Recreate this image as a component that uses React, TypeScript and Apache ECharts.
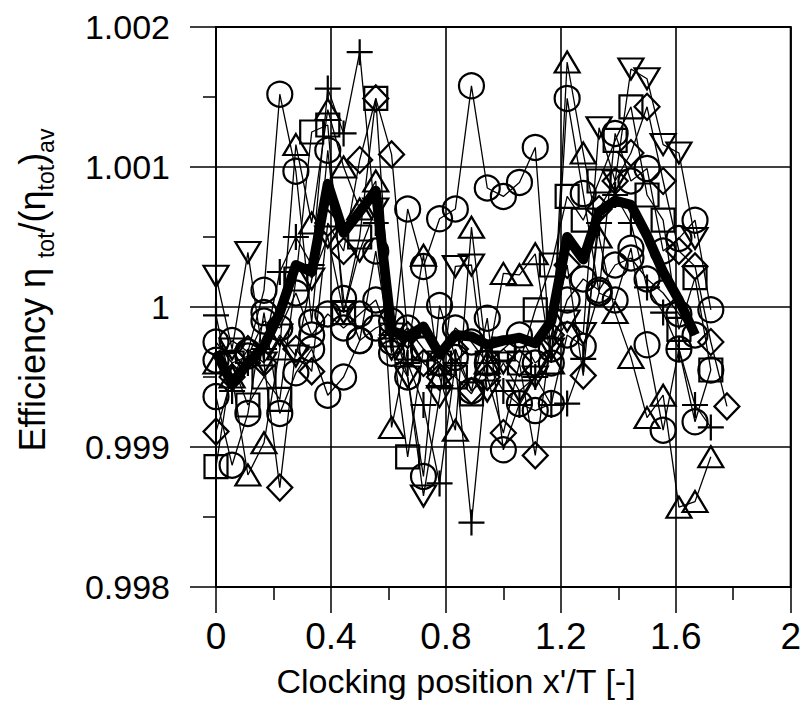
import React, { useEffect, useRef } from "react";
import * as echarts from "echarts";

// Clocking positions x'/T (steps of 1/18)
const positions = [
  0, 0.056, 0.111, 0.167, 0.222, 0.278, 0.333, 0.389, 0.444, 0.5, 0.556, 0.611,
  0.667, 0.722, 0.778, 0.833, 0.889, 0.944, 1.0, 1.056, 1.111, 1.167, 1.222,
  1.278, 1.333, 1.389, 1.444, 1.5, 1.556, 1.611, 1.667, 1.722, 1.778,
];

// Averaged efficiency (thick line)
const meanEff = [
  0.99968, 0.99945, 0.9996, 0.99972, 0.99996, 1.0003, 1.00025, 1.00088, 1.00053,
  1.00068, 1.00083, 0.99983, 0.99979, 0.99986, 0.99966, 0.9998, 0.99979, 0.99973,
  0.99976, 0.99978, 0.99974, 0.9999, 1.0005, 1.00034, 1.00068, 1.00076, 1.00073,
  1.00051, 1.00025, 1.00005, 0.9998,
];

const circleA = [
  0.99962, 0.99976, 0.99968, 1.00012, 1.00152, 1.00097, 0.99989, 1.00112, 1.00006,
  0.99976, 1.0004, 0.99967, 1.0007, 1.00029, 1.00063, 1.0007, 1.00158, 1.00085,
  1.00079, 1.00089, 1.00114, 0.9996, 1.00149, 1.00081, 1.0001, 1.00124, 1.0009,
  1.00099, 1.0004, 1.00049, 1.00062, 0.99998,
];

const circleB = [
  0.99936, 0.99887, 0.99924, 0.99996, 0.99924, 0.99953, 0.9997, 0.99937, 0.9995,
  0.99976, 0.99985, 0.9999, 0.9995, 0.99879, 1.00001, 0.99964, 0.9994, 0.99992,
  0.99898, 0.99931, 0.99926, 0.99931, 0.9998, 0.99972, 1.0001, 1.00005, 1.00042,
  0.99973, 0.99912, 0.9997, 0.99918, 0.99955,
];

const circleC = [
  0.99975, 0.9996, 0.99965, 0.9999, 0.99985, 1.0001, 0.9998, 0.99995, 0.99985,
  0.99995, 1.00005, 0.99975, 0.99985, 0.9997, 0.9996, 0.99985, 0.99975, 0.9996,
  0.9997, 0.9998, 0.9996, 0.9997, 1.00005, 1.0002, 1.00012, 1.0003, 1.00035,
  1.0002, 1.0001, 0.99995, 0.9998,
];

const squares = [
  0.99886, 0.9996, 0.9993, 0.9995, 0.99934, 1.0002, 1.00125, 1.0013, 0.99996,
  1.0005, 1.00149, 0.9998, 0.99893, 0.9997, 0.9996, 0.9995, 0.99938, 0.9996,
  0.9997, 0.9996, 0.99998, 1.0003, 1.00079, 1.00062, 1.0009, 1.00119, 1.00143,
  1.0008, 1.00062, 0.99984, 1.00021, 0.99955,
];

const trianglesUp = [
  0.9996, 0.9995, 0.9988, 0.99903, 0.9997, 1.00116, 1.0006, 1.00141, 1.001,
  1.0007, 1.0009, 0.99914, 0.9997, 1.00037, 0.9995, 0.99912, 1.00057, 0.9996,
  1.00024, 1.00023, 1.00038, 0.9996, 1.00175, 1.0011, 1.0005, 0.99996, 0.99964,
  0.99921, 0.99937, 0.99857, 0.99861, 0.99893,
];

const trianglesDown = [
  1.00022, 0.9997, 1.00039, 0.9996, 0.9998, 0.99965, 1.0002, 1.0005, 0.99996,
  1.0004, 1.0007, 0.9997, 0.9995, 0.99865, 0.99936, 1.00029, 1.0003, 0.9994,
  0.9996, 0.9994, 0.9995, 0.9997, 0.9999, 0.99981, 1.00128, 1.0009, 1.0017,
  1.00163, 1.00116, 1.0011, 1.00049,
];

const diamonds = [
  0.99911, 0.9995, 0.9997, 0.9996, 0.99871, 0.9997, 0.99954, 1.0006, 1.0004,
  1.00105, 1.00149, 1.00109, 0.9998, 0.9996, 0.9995, 0.9997, 0.9994, 0.9995,
  0.9991, 0.9996, 0.99894, 0.9998, 1.0003, 0.99951, 1.0007, 1.0009, 1.0011,
  1.00143, 1.0009, 1.0004, 1.00029, 0.99975, 0.99929,
];

const pluses = [
  0.99994, 0.9994, 0.9996, 0.9997, 1.00025, 1.0005, 1.0003, 1.00156, 1.00124,
  1.00182, 1.0006, 0.9998, 0.9996, 0.9993, 0.99874, 0.9996, 0.99846, 0.9996,
  0.9994, 0.9993, 0.9995, 0.9993, 0.99931, 0.99963, 1.0006, 1.0008, 1.0006,
  1.00014, 0.99996, 0.9997, 0.9993, 0.99914,
];

const xTicks = { min: 0, max: 2, interval: 0.4 };
const yTicks = { min: 0.998, max: 1.002, interval: 0.001 };
const xTitle = "Clocking position x'/T [-]";

const FONT = "'Liberation Sans', Arial, Helvetica, sans-serif";
const PLUS = "path://M0,5L10,5M5,0L5,10";

function pairs(vals: number[]) {
  return vals.map((v, i) => [positions[i], v]);
}

function markerSeries(vals: number[], symbol: string, size: number[], rotate = 0) {
  return {
    type: "line",
    data: pairs(vals),
    symbol,
    symbolSize: size,
    symbolRotate: rotate,
    showSymbol: true,
    showAllSymbol: true,
    silent: true,
    lineStyle: { color: "#000", width: 1.3 },
    itemStyle: { color: "rgba(255,255,255,0)", borderColor: "#000", borderWidth: 2.2 },
    z: 2,
  };
}

export default function App() {
  const ref = useRef<HTMLDivElement>(null);
  useEffect(() => {
    const chart = echarts.init(ref.current!, null, { renderer: "svg" });
    const axisCommon = {
      type: "value",
      axisLine: { show: true, lineStyle: { color: "#000", width: 2 } },
      axisTick: { show: true, inside: false, length: 26, lineStyle: { color: "#000", width: 1.5 } },
      minorTick: { show: true, splitNumber: 2, length: 13, lineStyle: { color: "#000", width: 1.5 } },
      splitLine: { show: true, lineStyle: { color: "#000", width: 1.6 } },
      minorSplitLine: { show: false },
    };
    chart.setOption({
      animation: false,
      backgroundColor: "#fff",
      textStyle: { fontFamily: FONT, color: "#000" },
      grid: { left: 216, right: 13, top: 27, bottom: 124, show: true, borderColor: "#000", borderWidth: 2 },
      xAxis: {
        ...axisCommon,
        min: xTicks.min,
        max: xTicks.max,
        interval: xTicks.interval,
        axisLabel: {
          fontSize: 37,
          color: "#000",
          fontFamily: FONT,
          margin: 31,
          formatter: (v: number) => String(parseFloat(v.toFixed(3))),
        },
      },
      yAxis: {
        ...axisCommon,
        min: yTicks.min,
        max: yTicks.max,
        interval: yTicks.interval,
        axisLabel: {
          fontSize: 34,
          color: "#000",
          fontFamily: FONT,
          margin: 46,
          formatter: (v: number) => String(parseFloat(v.toFixed(3))),
        },
      },
      graphic: [
        {
          type: "text",
          x: 456,
          y: 681,
          style: {
            text: xTitle,
            fontSize: 34,
            fontFamily: FONT,
            fill: "#000",
            align: "center",
            verticalAlign: "middle",
          },
        },
        {
          type: "text",
          x: 32,
          y: 290,
          rotation: Math.PI / 2,
          style: {
            text: "{m|Efficiency η }{s|tot}{m|/(η}{s|tot}{m|)}{s|av}",
            align: "center",
            verticalAlign: "middle",
            rich: {
              m: { fontSize: 36, fontFamily: FONT, fill: "#000", color: "#000", lineHeight: 50 },
              s: { fontSize: 23, fontFamily: FONT, fill: "#000", color: "#000", lineHeight: 23, verticalAlign: "bottom" },
            },
          },
        },
      ],
      series: [
        markerSeries(circleA, "circle", [25, 25]),
        markerSeries(circleB, "circle", [25, 25]),
        markerSeries(circleC, "circle", [25, 25]),
        markerSeries(squares, "rect", [23, 23]),
        markerSeries(trianglesUp, "triangle", [25, 21]),
        markerSeries(trianglesDown, "triangle", [25, 21], 180),
        markerSeries(diamonds, "diamond", [25, 26]),
        markerSeries(pluses, PLUS, [26, 26]),
        {
          type: "line",
          data: pairs(meanEff),
          symbol: "none",
          silent: true,
          lineStyle: { color: "#000", width: 10, join: "round" },
          z: 5,
        },
      ],
    });
    return () => chart.dispose();
  }, []);
  return <div ref={ref} style={{ position: "fixed", left: 0, top: 0, width: 804, height: 711 }} />;
}
